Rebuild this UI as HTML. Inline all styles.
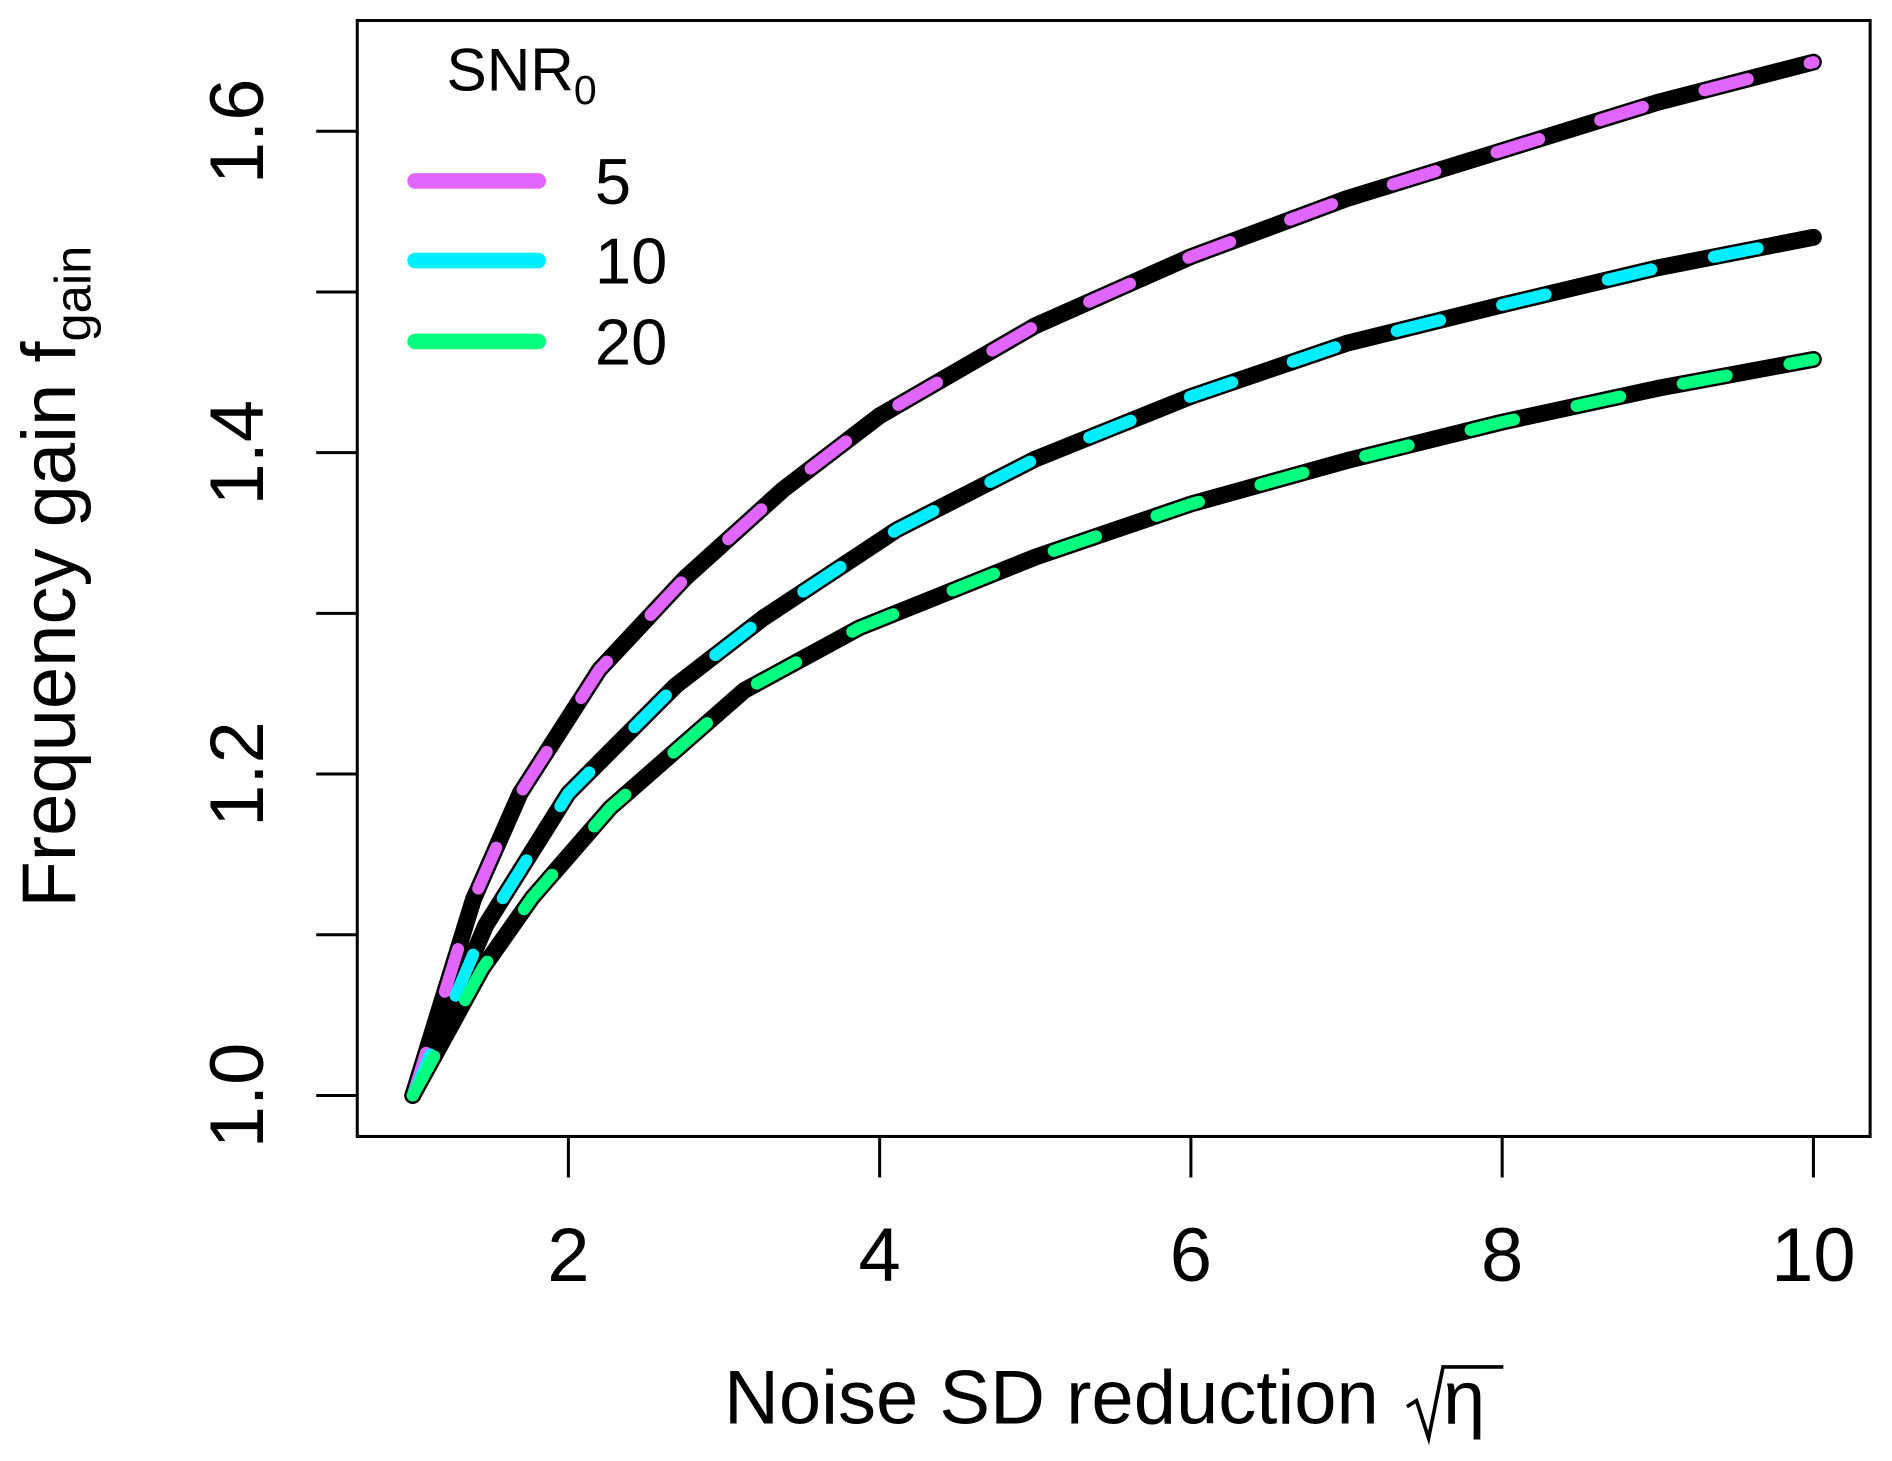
<!DOCTYPE html>
<html><head><meta charset="utf-8"><style>html,body{margin:0;padding:0;background:#fff}svg{display:block}text{font-family:"Liberation Sans",sans-serif;fill:#000}</style></head>
<body>
<svg id="chart" width="1892" height="1461" viewBox="0 0 1568 1211" xmlns="http://www.w3.org/2000/svg">
<rect x="296" y="17" width="1254" height="925" fill="none" stroke="#000" stroke-width="2.5"/>
<g id="axes"></g>
<g id="series"></g>
<text transform="translate(62,478) rotate(-90)" text-anchor="middle" font-size="63">Frequency gain f<tspan font-size="42" dy="13">gain</tspan></text>
<text x="600" y="1180" font-size="63">Noise SD reduction</text>
<g><path d="M1166,1166 L1174,1161 L1184,1192 L1196,1133 L1246,1133" fill="none" stroke="#000" stroke-width="3"/><text x="1196" y="1180" font-size="63">η</text></g>
<g>
<text x="370" y="75" font-size="50">SNR<tspan font-size="34" dy="11">0</tspan></text>
<line x1="344" y1="150" x2="446" y2="150" stroke="#e066ff" stroke-width="13" stroke-linecap="round"/>
<text x="493" y="169" font-size="54">5</text>
<line x1="344" y1="216" x2="446" y2="216" stroke="#00eeff" stroke-width="13" stroke-linecap="round"/>
<text x="493" y="235" font-size="54">10</text>
<line x1="344" y1="283" x2="446" y2="283" stroke="#00ff7f" stroke-width="13" stroke-linecap="round"/>
<text x="493" y="302" font-size="54">20</text>
</g>
</svg>
<script>
const x5=[1,1.39,1.69,2.2,2.75,3.38,4,5,6,7,8,9,10];
const snr5=[1.0,1.122,1.188,1.265,1.322,1.377,1.423,1.479,1.522,1.558,1.588,1.618,1.643];
const x10=[1,1.47,2.0,2.69,3.25,4.11,5,6,7,8,9,10];
const snr10=[1.0,1.106,1.188,1.255,1.297,1.352,1.396,1.435,1.468,1.492,1.515,1.534];
const x20=[1,1.447,1.767,2.27,3.13,3.87,5,6,7,8,9,10];
const snr20=[1.0,1.079,1.123,1.179,1.252,1.291,1.335,1.368,1.395,1.419,1.440,1.458];
const xTicks=[2,4,6,8,10];
const yTicks=[1.0,1.1,1.2,1.3,1.4,1.5,1.6];
const yLabels=["1.0","1.2","1.4","1.6"];
const NS="http://www.w3.org/2000/svg";
function sx(v){return 342+(v-1)*129;}
function sy(v){return 908-(v-1)*1332;}
const axes=document.getElementById('axes');
xTicks.forEach(t=>{
 const l=document.createElementNS(NS,'line');
 
 
 l.setAttribute('x1',sx(t));l.setAttribute('x2',sx(t));l.setAttribute('y1',942);l.setAttribute('y2',976);
 l.setAttribute('stroke','#000');l.setAttribute('stroke-width','2.5');axes.appendChild(l);
 const tx=document.createElementNS(NS,'text');
 
 
 tx.setAttribute('x',sx(t));tx.setAttribute('y',1062);tx.setAttribute('text-anchor','middle');tx.setAttribute('font-size','63');
 tx.textContent=String(t);axes.appendChild(tx);
});
yTicks.forEach(t=>{
 const l=document.createElementNS(NS,'line');
 
 
 l.setAttribute('x1',262);l.setAttribute('x2',296);l.setAttribute('y1',sy(t));l.setAttribute('y2',sy(t));
 l.setAttribute('stroke','#000');l.setAttribute('stroke-width','2.5');axes.appendChild(l);
});
yLabels.forEach(s=>{
 const v=parseFloat(s);
 const tx=document.createElementNS(NS,'text');
 
 
 tx.setAttribute('transform','translate(218,'+sy(v)+') rotate(-90)');tx.setAttribute('text-anchor','middle');tx.setAttribute('font-size','63');
 tx.textContent=s;axes.appendChild(tx);
});
function pathFor(xs,ys){
 return xs.map((x,i)=>(i?'L':'M')+sx(x).toFixed(1)+','+sy(ys[i]).toFixed(1)).join(' ');
}
const series=[[x5,snr5,'#e066ff','5'],[x10,snr10,'#00eeff','10'],[x20,snr20,'#00ff7f','20']];
const g=document.getElementById('series');
series.forEach(([xs,ys,c,n])=>{
 const b=document.createElementNS(NS,'path');
 
 
 b.setAttribute('d',pathFor(xs,ys));b.setAttribute('fill','none');b.setAttribute('stroke','#000');b.setAttribute('stroke-width','14');b.setAttribute('stroke-linecap','round');b.setAttribute('stroke-linejoin','round');
 g.appendChild(b);
});
series.forEach(([xs,ys,c,n])=>{
 const e=document.createElementNS(NS,'path');
 
 
 e.setAttribute('d',pathFor(xs,ys));e.setAttribute('fill','none');e.setAttribute('stroke',c);e.setAttribute('stroke-width','10');e.setAttribute('stroke-linecap','round');e.setAttribute('stroke-linejoin','round');e.setAttribute('stroke-dasharray','37 53');
 g.appendChild(e);
});
</script>
</body></html>
